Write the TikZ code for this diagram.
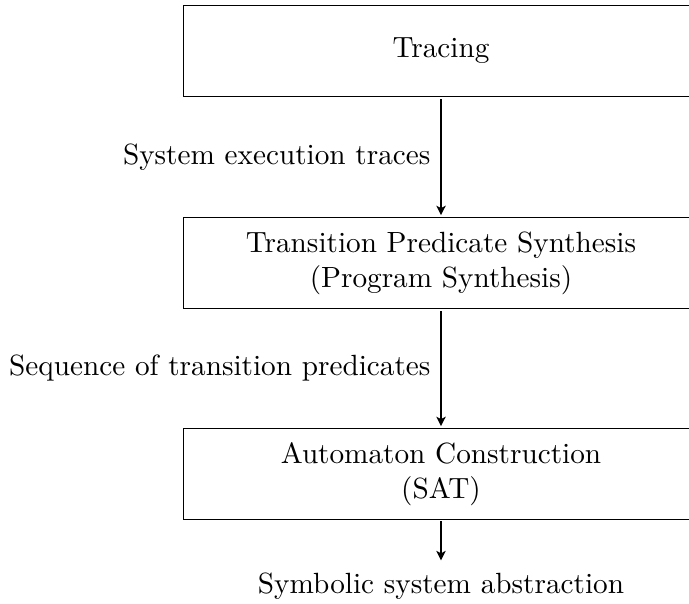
\documentclass[tikz,border=0pt]{standalone}
\usetikzlibrary{arrows.meta}
\begin{document}
\begin{tikzpicture}[x=0.342pt, y=-0.342pt,
  stage/.style={draw, line width=0.45pt, minimum width=176.1pt, minimum height=31.1pt, align=center, inner sep=0pt},
  flow/.style={-{Stealth[length=3.2pt, width=3.2pt, inset=0.8pt]}, line width=0.6pt}]
  \clip (0,0) rectangle (689,603);
  \useasboundingbox (0,0) rectangle (689,603);

  \node[stage] (trace) at (441,51) {Tracing};
  \node[stage] (synth) at (441,263) {Transition Predicate Synthesis\\(Program Synthesis)};
  \node[stage] (auto)  at (441,474) {Automaton Construction\\(SAT)};
  \node[anchor=base] (abs) at (441,593) {Symbolic system abstraction};

  \draw[flow, shorten <=0.8pt, shorten >=0.6pt] (trace) -- node[left] {System execution traces} (synth);
  \draw[flow, shorten <=0.8pt, shorten >=0.6pt] (synth) -- node[left] {Sequence of transition predicates} (auto);
  \draw[flow, shorten <=0.3pt, shorten >=0.6pt] (auto) -- (abs);
\end{tikzpicture}
\end{document}
